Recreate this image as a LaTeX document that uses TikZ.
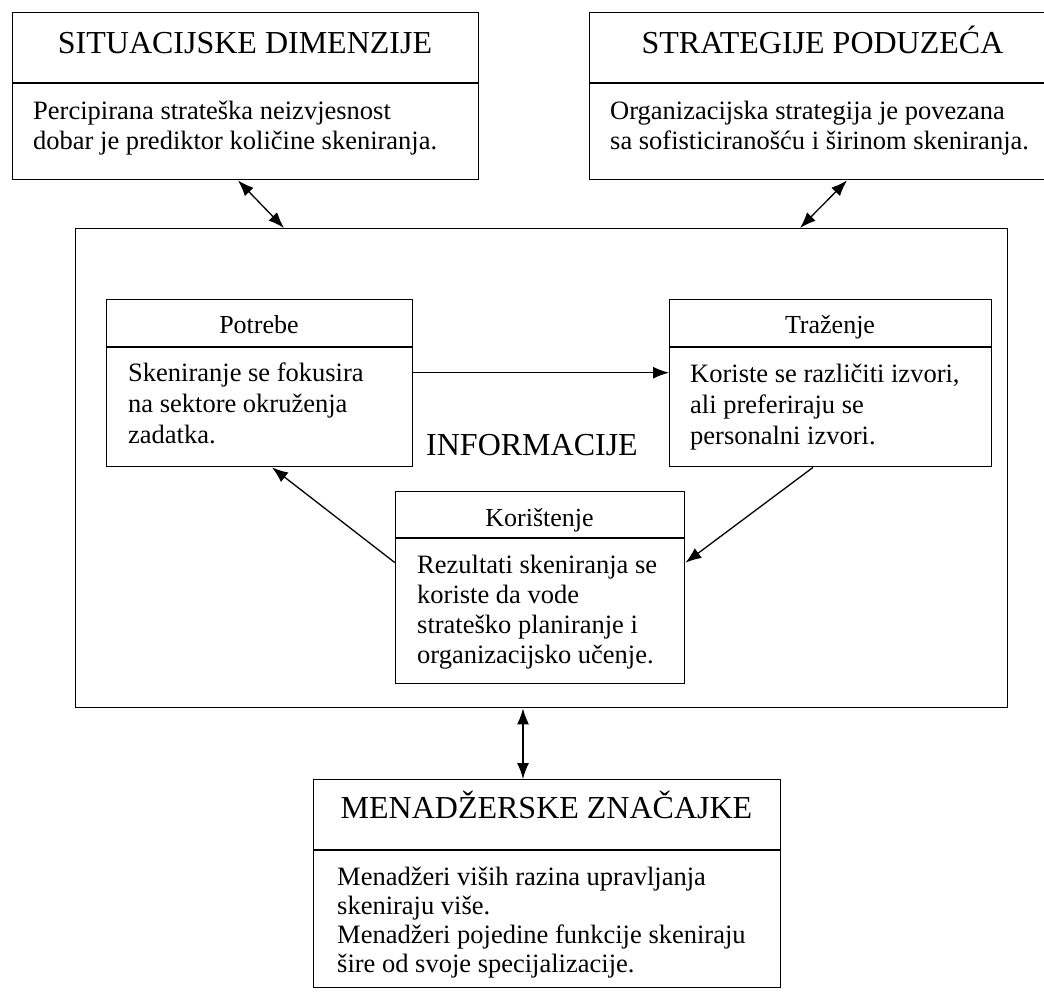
\documentclass[tikz,border=0pt]{standalone}
\usepackage{fontspec}
\setmainfont{Liberation Serif}
\usetikzlibrary{arrows.meta}
\tikzset{
  frame/.style={draw, line width=1.4pt, inner sep=0pt, anchor=north west},
  hdr/.style={font=\fontsize{32}{36}\selectfont, anchor=base, inner sep=0pt},
  smallhdr/.style={font=\fontsize{26}{30}\selectfont, anchor=base, inner sep=0pt},
  body/.style={font=\fontsize{26.5}{30}\selectfont, align=left, anchor=north west, inner sep=0pt},
  conn/.style={line width=1.3pt, -{Latex[length=16pt,width=12pt]}},
  bconn/.style={line width=1.3pt, {Latex[length=16pt,width=12pt]}-{Latex[length=16pt,width=12pt]}},
  divider/.style={line width=1.4pt}
}
\newcommand{\fl}{\rule{0pt}{21pt}}
\begin{document}
\begin{tikzpicture}[x=1pt,y=-1pt]
\useasboundingbox (0,0) rectangle (1044,991);
\clip (0,0) rectangle (1044,991);
\fill[white] (0,0) rectangle (1044,991);

% outer boxes
\node[frame, minimum width=466pt, minimum height=167pt] (sit) at (12,12) {};
\node[frame, minimum width=467pt, minimum height=167pt] (str) at (589,12) {};
\node[frame, minimum width=932pt, minimum height=479pt] (info) at (75,228) {};
\node[frame, minimum width=467pt, minimum height=208pt] (men) at (313,779) {};

% inner boxes
\node[frame, minimum width=306pt, minimum height=167pt] (pot) at (106,299) {};
\node[frame, minimum width=322pt, minimum height=167pt] (traz) at (669,299) {};
\node[frame, minimum width=289pt, minimum height=192pt] (kor) at (395,491) {};

% header dividers
\draw[divider] ([yshift=-71pt]sit.north west) -- ([yshift=-71pt]sit.north east);
\draw[divider] ([yshift=-71pt]str.north west) -- ([yshift=-71pt]str.north east);
\draw[divider] ([yshift=-71pt]men.north west) -- ([yshift=-71pt]men.north east);
\draw[divider] ([yshift=-48pt]pot.north west) -- ([yshift=-48pt]pot.north east);
\draw[divider] ([yshift=-48pt]traz.north west) -- ([yshift=-48pt]traz.north east);
\draw[divider] ([yshift=-47pt]kor.north west) -- ([yshift=-47pt]kor.north east);

% headers
\node[hdr] (sith) at (245,53) {SITUACIJSKE DIMENZIJE};
\node[hdr] (strh) at (822.5,53) {STRATEGIJE PODUZEĆA};
\node[hdr] (menh) at (546.5,818) {MENADŽERSKE ZNAČAJKE};
\node[hdr] (infoh) at (532,455) {INFORMACIJE};
\node[smallhdr] (poth) at (259,333) {Potrebe};
\node[smallhdr] (trazh) at (830,333) {Traženje};
\node[smallhdr] (korh) at (539.5,526) {Korištenje};

% bodies
\node[body] (sitb) at (33,98) {\fl Percipirana strateška neizvjesnost\\dobar je prediktor količine skeniranja.};
\node[body] (strb) at (610,98) {\fl Organizacijska strategija je povezana\\sa sofisticiranošću i širinom skeniranja.};
\node[body, font=\fontsize{26.5}{31}\selectfont] (potb) at (128,360) {\fl Skeniranje se fokusira\\na sektore okruženja\\zadatka.};
\node[body, font=\fontsize{26.5}{31}\selectfont] (trazb) at (690,361) {\fl Koriste se različiti izvori,\\ali preferiraju se\\personalni izvori.};
\node[body] (korb) at (417,552) {\fl Rezultati skeniranja se\\koriste da vode\\strateško planiranje i\\organizacijsko učenje.};
\node[body, font=\fontsize{26.5}{29}\selectfont] (menb) at (337,864) {\fl Menadžeri viših razina upravljanja\\skeniraju više.\\Menadžeri pojedine funkcije skeniraju\\šire od svoje specijalizacije.};

% connectors
\draw[bconn] ([xshift=226pt]sit.south west) -- ([xshift=209pt]info.north west);
\draw[bconn] ([xshift=258pt]str.south west) -- ([xshift=725pt]info.north west);
\draw[conn] ([yshift=10.5pt]pot.east) -- ([yshift=10.5pt]traz.west);
\draw[conn] ([xshift=144pt]traz.south west) -- ([yshift=25pt]kor.east);
\draw[conn] ([yshift=25pt]kor.west) -- ([xshift=166pt]pot.south west);
\draw[bconn] ([xshift=448pt]info.south west) -- ([xshift=210pt]men.north west);
\end{tikzpicture}
\end{document}
